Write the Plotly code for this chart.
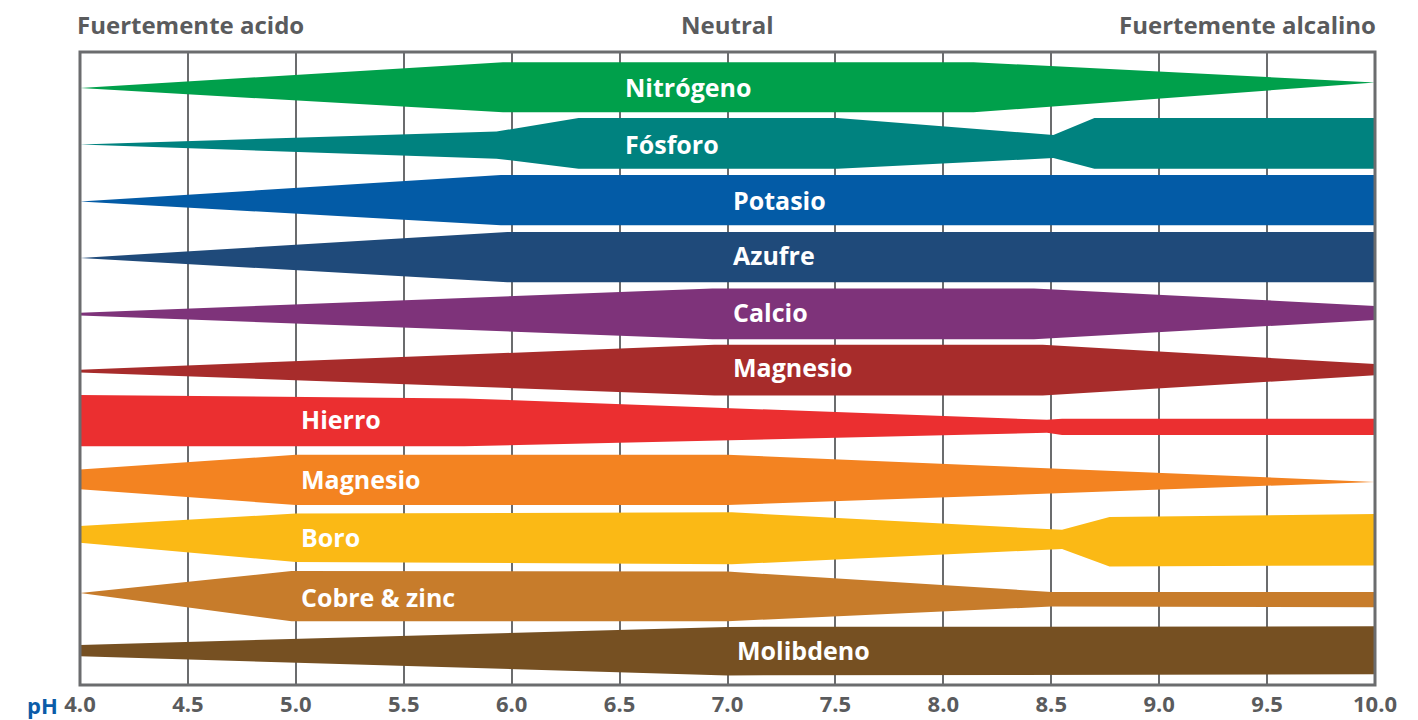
import plotly.graph_objects as go

# ---- data -------------------------------------------------------------
nutrients = ["Nitrógeno", "Fósforo", "Potasio", "Azufre", "Calcio", "Magnesio",
             "Hierro", "Magnesio", "Boro", "Cobre & zinc", "Molibdeno"]
colors = ["#00A04B", "#00827F", "#035BA6", "#1F4A7A", "#7E337A", "#A72C2B",
          "#EB2F30", "#F38321", "#FBB915", "#C77C2B", "#765022"]

# pH knots and band edges (offset from row centre, row units, + = downward)
ph_knots = [
    [4.0, 5.96, 8.14, 10.0],
    [4.0, 5.93, 6.31, 7.51, 8.51, 8.70, 10.0],
    [4.0, 5.95, 10.0],
    [4.0, 5.98, 10.0],
    [4.0, 6.93, 8.42, 10.0],
    [4.0, 6.94, 8.46, 10.0],
    [4.0, 5.78, 8.48, 8.55, 10.0],
    [4.0, 5.0, 7.0, 10.0],
    [4.0, 5.0, 7.02, 8.55, 8.77, 10.0],
    [4.0, 4.98, 7.0, 8.5, 10.0],
    [4.0, 7.0, 10.0],
]
top_edge = [
    [0.02, -0.44, -0.44, -0.08],
    [0.02, -0.21, -0.45, -0.45, -0.15, -0.45, -0.45],
    [0.03, -0.44, -0.44],
    [0.03, -0.43, -0.43],
    [0.00, -0.43, -0.43, -0.12],
    [0.01, -0.43, -0.43, -0.09],
    [-0.54, -0.48, -0.10, -0.12, -0.12],
    [-0.22, -0.48, -0.48, 0.00],
    [-0.22, -0.44, -0.46, -0.15, -0.38, -0.43],
    [-0.03, -0.42, -0.41, -0.05, -0.05],
    [-0.11, -0.43, -0.44],
]
bottom_edge = [
    [0.02, 0.45, 0.45, -0.08],
    [0.02, 0.27, 0.45, 0.45, 0.26, 0.45, 0.45],
    [0.03, 0.45, 0.45],
    [0.03, 0.46, 0.46],
    [0.05, 0.47, 0.47, 0.13],
    [0.06, 0.47, 0.47, 0.11],
    [0.37, 0.37, 0.13, 0.17, 0.17],
    [0.13, 0.41, 0.41, 0.00],
    [0.08, 0.42, 0.46, 0.19, 0.50, 0.48],
    [-0.03, 0.47, 0.47, 0.21, 0.22],
    [0.09, 0.43, 0.41],
]
label_ph = [6.53, 6.53, 7.03, 7.03, 7.03, 7.03, 5.03, 5.03, 5.03, 5.03, 7.05]
label_dy = [0.01, 0.02, 0.02, -0.01, 0.0, -0.02, -0.09, -0.04, -0.01, 0.05, 0.0]

ph_ticks = [4.0, 4.5, 5.0, 5.5, 6.0, 6.5, 7.0, 7.5, 8.0, 8.5, 9.0, 9.5, 10.0]
tick_text = ["4.0", "4.5", "5.0", "5.5", "6.0", "6.5", "7.0", "7.5", "8.0",
             "8.5", "9.0", "9.5", "10.0"]
header_left = "Fuertemente acido"
header_mid = "Neutral"
header_right = "Fuertemente alcalino"

# ---- figure -----------------------------------------------------------
FONT = "Open Sans"
GRAY = "#5a5b5d"
fig = go.Figure()

for i, name in enumerate(nutrients):
    xs = list(ph_knots[i]) + list(reversed(ph_knots[i]))
    ys = [i + t for t in top_edge[i]] + [i + b for b in reversed(bottom_edge[i])]
    fig.add_trace(go.Scatter(
        x=xs, y=ys, mode="lines", fill="toself", fillcolor=colors[i],
        line=dict(width=0, color=colors[i]), hoverinfo="text", text=name,
        showlegend=False))
    fig.add_annotation(x=label_ph[i], y=i + label_dy[i], text=name,
                       xanchor="left", yanchor="middle", showarrow=False,
                       xshift=-3, yshift=1,
                       font=dict(family=FONT, size=25, color="white", weight=700))

fig.add_annotation(x=0, y=1.043, xref="paper", yref="paper", text=header_left,
                   xanchor="left", yanchor="middle", showarrow=False, xshift=-5,
                   font=dict(family=FONT, size=24, color=GRAY, weight=700))
fig.add_annotation(x=7.0, y=1.043, xref="x", yref="paper", text=header_mid,
                   xanchor="center", yanchor="middle", showarrow=False,
                   font=dict(family=FONT, size=24, color=GRAY, weight=700))
fig.add_annotation(x=1, y=1.043, xref="paper", yref="paper", text=header_right,
                   xanchor="right", yanchor="middle", showarrow=False, xshift=3,
                   font=dict(family=FONT, size=24, color=GRAY, weight=700))
fig.add_annotation(x=-0.029, y=-0.031, xref="paper", yref="paper", text="pH",
                   xanchor="center", yanchor="middle", showarrow=False,
                   font=dict(family=FONT, size=22, color="#0B5CA8", weight=700))

fig.add_shape(type="rect", xref="paper", yref="paper", x0=0, x1=1, y0=0, y1=1,
              line=dict(color="#6b6c6e", width=3), layer="above")

fig.update_xaxes(range=[4.0, 10.0], tickvals=ph_ticks, ticktext=tick_text,
                 showgrid=True, gridcolor="#6b6c6e", gridwidth=1.5,
                 zeroline=False, showline=False, ticks="", automargin=False,
                 tickfont=dict(family=FONT, size=22, color=GRAY, weight=700),
                 ticklabelstandoff=4, fixedrange=True)
fig.update_yaxes(range=[10.60, -0.62], showgrid=False, zeroline=False,
                 showticklabels=False, ticks="", showline=False,
                 automargin=False, fixedrange=True)

fig.update_layout(width=1410, height=712, autosize=False,
                  margin=dict(l=72, r=43, t=44, b=35),
                  paper_bgcolor="white", plot_bgcolor="white",
                  font=dict(family=FONT))

fig.write_html("out.html")
